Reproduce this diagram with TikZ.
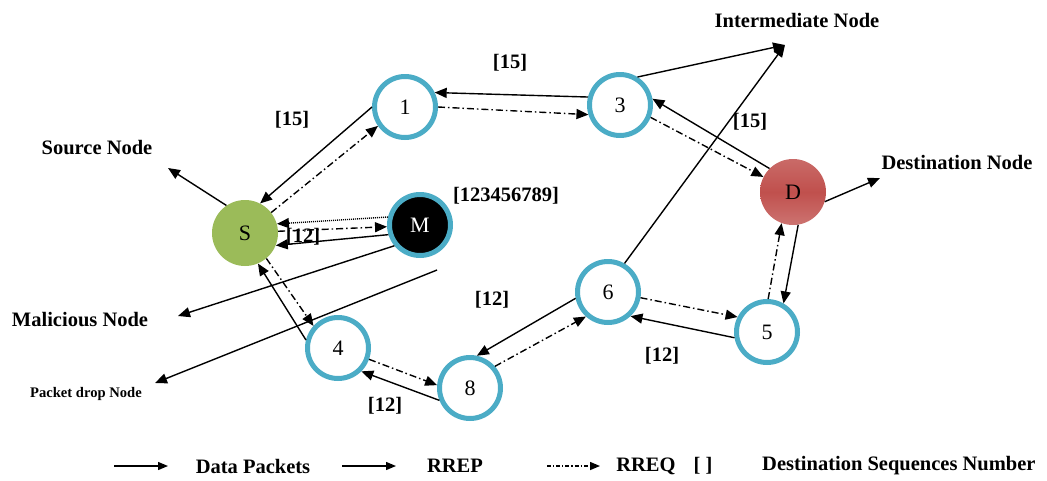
\documentclass[tikz,border=0pt]{standalone}
\usepackage{fontspec}
\setmainfont{Liberation Serif}
\usetikzlibrary{arrows.meta}
\definecolor{ring}{HTML}{4BACC6}
\definecolor{sgreen}{HTML}{9BBB59}
\definecolor{dred}{HTML}{C0504D}
\tikzset{
 ringnode/.style={circle, draw=ring, line width=5pt, fill=white, minimum size=61pt, inner sep=0pt, font=\fontsize{22}{26}\selectfont},
 snode/.style={circle, fill=sgreen, minimum size=66pt, inner sep=0pt, font=\fontsize{22}{26}\selectfont},
 mnode/.style={ringnode, fill=black, text=white},
 dnode/.style={circle, minimum size=66pt, inner sep=0pt, top color=dred!85!white, bottom color=dred!80!white, middle color=dred, font=\fontsize{22}{26}\selectfont},
 lbl/.style={font=\fontsize{20.5}{24}\selectfont\bfseries, inner sep=0pt},
 conn/.style={line width=1.4pt, -{Triangle[length=12pt,width=10pt]}},
 rreq/.style={conn, dash pattern=on 7pt off 3pt on 1.5pt off 3pt},
 dots/.style={conn, dash pattern=on 1pt off 1pt},
 legarrow/.style={line width=1.4pt, -{Triangle[length=10pt,width=8pt]}},
}
\begin{document}
\begin{tikzpicture}[x=1pt,y=-1pt]
\useasboundingbox (0,0) rectangle (1047,480);
% nodes
\node[snode] (S) at (245,233) {S};
\node[ringnode] (n1) at (405,107) {1};
\node[mnode] (M) at (420,225) {M};
\node[ringnode] (n3) at (620,105) {3};
\node[dnode] (D) at (793,192) {D};
\node[ringnode] (n6) at (608,292) {6};
\node[ringnode] (n5) at (767,332) {5};
\node[ringnode] (n4) at (338,348) {4};
\node[ringnode] (n8) at (470,388) {8};
% labels
\node[lbl] (lint) at (797,20) {Intermediate Node};
\node[lbl] (lsrc) at (97,148) {Source Node};
\node[lbl] (ldst) at (957,162) {Destination Node};
\node[lbl] (lmal) at (80,320) {Malicious Node};
\node[font=\fontsize{14.6}{17}\selectfont\bfseries, inner sep=0pt] (lpd) at (86,394) {Packet drop Node};
\node[lbl] (q1) at (292,120) {[15]};
\node[lbl] (q2) at (510,63) {[15]};
\node[lbl] (q3) at (750,122) {[15]};
\node[lbl] (q4) at (506,196) {[123456789]};
\node[lbl] (q5) at (303,237) {[12]};
\node[lbl] (q6) at (492,300) {[12]};
\node[lbl] (q7) at (385,406) {[12]};
\node[lbl] (q8) at (662,356) {[12]};
% free ends
\coordinate (imend) at (785,45);
\coordinate (srcend) at (168,168);
\coordinate (dstend) at (880,178);
\coordinate (malend) at (178,316);
\coordinate (pdstart) at (437,270);
\coordinate (pdend) at (155,383);
% connectors
\draw[conn] (n3.166) -- (n1.26);
\draw[rreq] (n1.0) -- (n3.197);
\draw[conn] (n1.180) -- (S.63);
\draw[rreq] (S.38) -- (n1.215);
\draw[dots] (M.166) -- (S.16);
\draw[rreq] (S.3) -- (M.183);
\draw[conn] (M.197) -- (S.338);
\draw[rreq] (S.310) -- (n4.138);
\draw[conn] (n4.166) -- (S.293);
\draw[conn] (M.219) -- (malend);
\draw[conn] (pdstart) -- (pdend);
\draw[rreq] (n4.340) -- (n8.175);
\draw[conn] (n8.202) -- (n4.315);
\draw[conn] (n6.191) -- (n8.78);
\draw[rreq] (n8.41) -- (n6.228);
\draw[rreq] (n6.350) -- (n5.153);
\draw[conn] (n5.190) -- (n6.313);
\draw[rreq] (n5.88) -- (D.250);
\draw[conn] (D.279) -- (n5.60);
\draw[conn] (D.135) -- (n3.11);
\draw[rreq] (n3.338) -- (D.153);
\draw[conn] (n3.58) -- (imend);
\draw[conn] (n6.60) -- (imend);
\draw[conn] (S.124) -- (srcend);
\draw[conn] (D.343) -- (dstend);
% legend
\coordinate (la1) at (114,466); \coordinate (lb1) at (168,466);
\coordinate (la2) at (342,466); \coordinate (lb2) at (396,466);
\coordinate (la3) at (547,466); \coordinate (lb3) at (600,466);
\draw[legarrow] (la1) -- (lb1);
\draw[legarrow] (la2) -- (lb2);
\draw[legarrow, dash pattern=on 4pt off 2pt on 1.2pt off 2pt] (la3) -- (lb3);
\node[lbl] (t1) at (253,466) {Data Packets};
\node[lbl] (t2) at (455,466) {RREP};
\node[lbl] (t3) at (646,466) {RREQ};
\node[lbl] (t4) at (703,466) {[ ]};
\node[lbl, anchor=west] (t5) at (762,466) {Destination Sequences Number};
\end{tikzpicture}
\end{document}
